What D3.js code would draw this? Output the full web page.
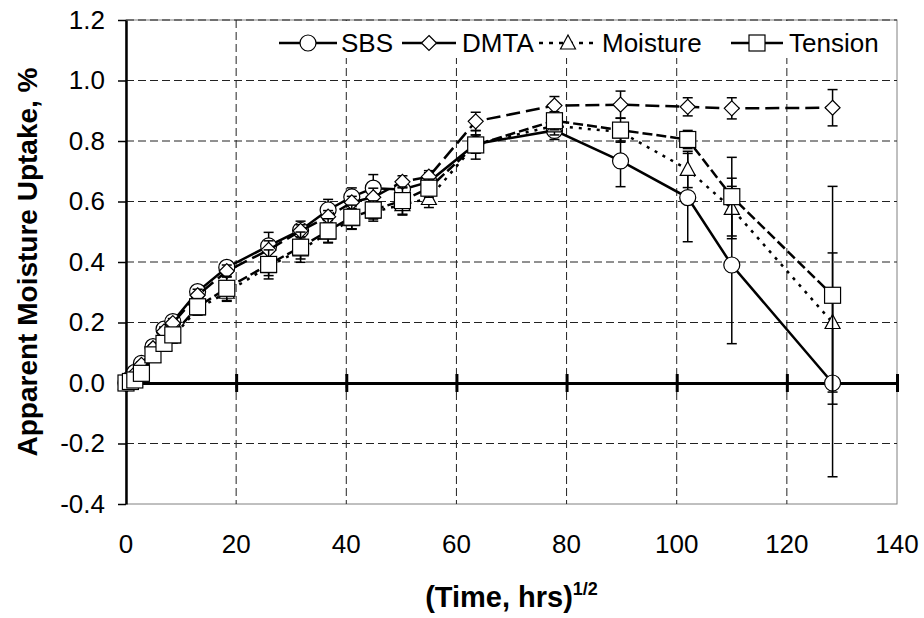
<!DOCTYPE html>
<html>
<head>
<meta charset="utf-8">
<script src="https://cdn.jsdelivr.net/npm/d3@7"></script>
<style>
	body { margin: 0; background: #fff; }
	svg text { font-family: Arial, "Liberation Sans", sans-serif; }
</style>
</head>
<body>
<div class="c-svg"></div>
<script>
//DATA
//-------------------------------------------------------------------------

//x = (time, hrs)^1/2, shared by every series
const timeRoot = [0, 0.8, 1.6, 2.8, 4.9, 6.9, 8.5, 13, 18.3, 25.9, 31.7, 36.7, 41, 44.9, 50.2, 55, 63.5, 77.8, 89.8, 102, 110, 128.3];

const seriesNames = ["SBS", "DMTA", "Moisture", "Tension"];

const sbsValues = [0, 0.015, 0.035, 0.065, 0.12, 0.178, 0.203, 0.302, 0.382, 0.453, 0.505, 0.572, 0.615, 0.644, 0.64, 0.665, 0.79, 0.835, 0.734, 0.613, 0.39, 0.0];
const dmtaValues = [0, 0.012, 0.03, 0.06, 0.115, 0.17, 0.198, 0.29, 0.37, 0.44, 0.503, 0.55, 0.597, 0.614, 0.665, 0.682, 0.865, 0.917, 0.92, 0.913, 0.908, 0.91];
const moistureValues = [0, 0.005, 0.01, 0.028, 0.088, 0.128, 0.152, 0.245, 0.3, 0.385, 0.44, 0.495, 0.54, 0.565, 0.59, 0.61, 0.79, 0.85, 0.83, 0.706, 0.577, 0.2];
const tensionValues = [0, 0.005, 0.01, 0.032, 0.093, 0.131, 0.159, 0.252, 0.313, 0.392, 0.449, 0.503, 0.548, 0.572, 0.603, 0.644, 0.787, 0.867, 0.836, 0.805, 0.616, 0.29];

//error bar half lengths
const sbsErr = [0, 0.005, 0.01, 0.01, 0.015, 0.015, 0.02, 0.02, 0.02, 0.045, 0.03, 0.035, 0.03, 0.045, 0.03, 0.03, 0.03, 0.03, 0.085, 0.146, 0.26, 0.31];
const dmtaErr = [0, 0.005, 0.01, 0.01, 0.01, 0.015, 0.015, 0.02, 0.02, 0.03, 0.02, 0.02, 0.02, 0.03, 0.02, 0.02, 0.03, 0.03, 0.045, 0.03, 0.035, 0.06];
const moistureErr = [0, 0.005, 0.01, 0.01, 0.015, 0.015, 0.02, 0.02, 0.03, 0.03, 0.03, 0.03, 0.03, 0.03, 0.035, 0.03, 0.03, 0.03, 0.03, 0.06, 0.1, 0.23];
const tensionErr = [0, 0.005, 0.01, 0.01, 0.015, 0.015, 0.02, 0.027, 0.04, 0.048, 0.05, 0.04, 0.04, 0.03, 0.045, 0.03, 0.047, 0.03, 0.04, 0.03, 0.13, 0.36];

const xTicks = [0, 20, 40, 60, 80, 100, 120, 140];
const yTicks = [-0.4, -0.2, 0.0, 0.2, 0.4, 0.6, 0.8, 1.0, 1.2];


//INITIALISATION
//-------------------------------------------------------------------------

const opts = {
	width: 924,
	height: 618,
	margin: { top: 20, right: 27, bottom: 114, left: 126 }
};

const innerChart = {
	width: opts.width - opts.margin.left - opts.margin.right,
	height: opts.height - opts.margin.top - opts.margin.bottom
};

const svg = d3.select(".c-svg")
	.append("svg")
	.attr("width", opts.width)
	.attr("height", opts.height);

const g = svg.append("g")
	.attr("transform", `translate(${opts.margin.left} ${opts.margin.top})`);

const x = d3.scaleLinear().domain([0, 140]).range([0, innerChart.width]);
const y = d3.scaleLinear().domain([-0.4, 1.2]).range([innerChart.height, 0]);

//series table built from the arrays
const series = [
	{ name: seriesNames[0], values: sbsValues, err: sbsErr, dash: null, marker: "circle" },
	{ name: seriesNames[1], values: dmtaValues, err: dmtaErr, dash: "14,6", marker: "diamond" },
	{ name: seriesNames[2], values: moistureValues, err: moistureErr, dash: "3,6", marker: "triangle" },
	{ name: seriesNames[3], values: tensionValues, err: tensionErr, dash: "10,4", marker: "square" }
];
series.forEach((s) => {
	s.points = timeRoot.map((t, i) => ({ t: t, v: s.values[i], e: s.err[i] }));
});


//GRID & FRAME
//-------------------------------------------------------------------------

g.append("rect")
	.attr("width", innerChart.width)
	.attr("height", innerChart.height)
	.attr("fill", "none")
	.attr("stroke", "#808080")
	.attr("stroke-width", 1);

g.append("g").selectAll("line")
	.data(yTicks.filter(d => d !== 0 && d !== -0.4))
	.join("line")
	.attr("x1", 0).attr("x2", innerChart.width)
	.attr("y1", d => y(d)).attr("y2", d => y(d))
	.attr("stroke", "#222").attr("stroke-width", 1)
	.attr("stroke-dasharray", "8,4");

g.append("g").selectAll("line")
	.data(xTicks.filter(d => d !== 0 && d !== 140))
	.join("line")
	.attr("x1", d => x(d)).attr("x2", d => x(d))
	.attr("y1", 0).attr("y2", innerChart.height)
	.attr("stroke", "#222").attr("stroke-width", 1)
	.attr("stroke-dasharray", "8,4");


//AXIS
//-------------------------------------------------------------------------

//plain hyphen for negatives, like the original
const yFormat = d => d3.format(".1f")(d).replace("\u2212", "-");

const yAxis = d3.axisLeft(y)
	.tickValues(yTicks)
	.tickSize(8)
	.tickSizeOuter(0)
	.tickPadding(13)
	.tickFormat(yFormat);

g.append("g")
	.attr("class", "axis y_axis")
	.call(yAxis)
	.call(a => a.select(".domain").attr("stroke-width", 2.5))
	.call(a => a.selectAll(".tick line").attr("stroke-width", 1.5))
	.call(a => a.selectAll("text").attr("font-size", 26).attr("fill", "#000"));

//x axis lies on y = 0, labels stay at the bottom
const xAxis = d3.axisBottom(x)
	.tickValues(xTicks)
	.tickSize(0)
	.tickSizeOuter(0)
	.tickFormat(d3.format("d"));

g.append("g")
	.attr("class", "axis x_axis")
	.attr("transform", `translate(0 ${y(0)})`)
	.call(xAxis)
	.call(a => a.select(".domain").attr("stroke-width", 3))
	.call(a => a.selectAll("text").remove());

g.select(".x_axis").selectAll(".tick")
	.append("line")
	.attr("y1", -9).attr("y2", 9)
	.attr("stroke", "#000").attr("stroke-width", 3);

g.append("g")
	.attr("class", "x_labels")
	.selectAll("text")
	.data(xTicks)
	.join("text")
	.attr("x", d => x(d))
	.attr("y", innerChart.height + 49)
	.attr("text-anchor", "middle")
	.attr("font-size", 26)
	.text(d => d);


//SERIES
//-------------------------------------------------------------------------

function drawMarker(sel, type) {
	if (type === "circle") {
		sel.append("circle").attr("r", 8);
	} else if (type === "diamond") {
		sel.append("path").attr("d", "M0,-7.5L7.5,0L0,7.5L-7.5,0Z");
	} else if (type === "triangle") {
		sel.append("path").attr("d", "M0,-8L7.5,6L-7.5,6Z");
	} else {
		sel.append("rect").attr("x", -8).attr("y", -8).attr("width", 16).attr("height", 16);
	}
	sel.selectAll("circle, path, rect")
		.attr("fill", "#fff")
		.attr("stroke", "#000")
		.attr("stroke-width", 1.2);
}

const line = d3.line()
	.x(d => x(d.t))
	.y(d => y(d.v));

series.forEach((s) => {
	const sg = g.append("g").attr("class", "series");

	sg.append("path")
		.datum(s.points)
		.attr("d", line)
		.attr("fill", "none")
		.attr("stroke", "#000")
		.attr("stroke-width", 2.5)
		.attr("stroke-dasharray", s.dash);

	const bars = sg.append("g").selectAll("g")
		.data(s.points.filter(d => d.e > 0))
		.join("g")
		.attr("transform", d => `translate(${x(d.t)} 0)`);

	bars.append("line")
		.attr("y1", d => y(d.v - d.e)).attr("y2", d => y(d.v + d.e))
		.attr("stroke", "#000").attr("stroke-width", 1.5);
	bars.append("line")
		.attr("x1", -5).attr("x2", 5)
		.attr("y1", d => y(d.v + d.e)).attr("y2", d => y(d.v + d.e))
		.attr("stroke", "#000").attr("stroke-width", 1.5);
	bars.append("line")
		.attr("x1", -5).attr("x2", 5)
		.attr("y1", d => y(d.v - d.e)).attr("y2", d => y(d.v - d.e))
		.attr("stroke", "#000").attr("stroke-width", 1.5);

	sg.append("g").selectAll("g")
		.data(s.points)
		.join("g")
		.attr("transform", d => `translate(${x(d.t)} ${y(d.v)})`)
		.each(function(){ drawMarker(d3.select(this), s.marker); });
});


//LEGEND
//-------------------------------------------------------------------------

//line sample start and text start, relative to the plot
const legendItems = [
	{ lx: 153, lw: 58, tx: 215 },
	{ lx: 276, lw: 54, tx: 336 },
	{ lx: 413, lw: 58, tx: 476 },
	{ lx: 605, lw: 52, tx: 663 }
];

const legend = g.append("g").attr("class", "legend");

legend.append("rect")
	.attr("x", 146).attr("y", 1)
	.attr("width", innerChart.width - 147).attr("height", 37)
	.attr("fill", "#fff");

series.forEach((s, i) => {
	const it = legendItems[i];
	const lg = legend.append("g").attr("transform", `translate(${it.lx} 23)`);
	lg.append("line")
		.attr("x1", 0).attr("x2", it.lw)
		.attr("stroke", "#000").attr("stroke-width", 2.5)
		.attr("stroke-dasharray", s.marker === "triangle" ? "4,6" : null);
	const mk = lg.append("g").attr("transform", `translate(${it.lw / 2} 0)`);
	drawMarker(mk, s.marker);
	legend.append("text")
		.attr("x", it.tx).attr("y", 32)
		.attr("font-size", 26)
		.text(s.name);
});


//TITLES
//-------------------------------------------------------------------------

svg.append("text")
	.attr("transform", `translate(37 ${opts.margin.top + innerChart.height / 2}) rotate(-90)`)
	.attr("text-anchor", "middle")
	.attr("font-size", 28)
	.attr("font-weight", "bold")
	.text("Apparent Moisture Uptake, %");

const xTitle = svg.append("text")
	.attr("x", opts.margin.left + innerChart.width / 2)
	.attr("y", 607)
	.attr("text-anchor", "middle")
	.attr("font-size", 29)
	.attr("font-weight", "bold");
xTitle.append("tspan").text("(Time, hrs)");
xTitle.append("tspan")
	.attr("font-size", 18)
	.attr("dy", -12)
	.text("1/2");
</script>
</body>
</html>
